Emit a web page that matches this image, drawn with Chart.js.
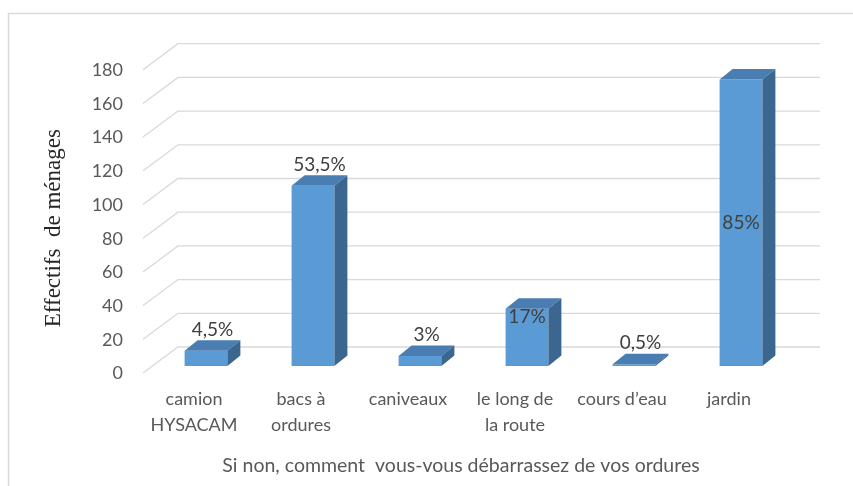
<!DOCTYPE html>
<html lang="fr">
<head>
<meta charset="utf-8">
<title>Effectifs de ménages</title>
<script src="https://cdn.jsdelivr.net/npm/chart.js@4.4.1/dist/chart.umd.min.js"></script>
<style>
  html, body { margin: 0; padding: 0; background: #fff; }
  canvas { display: block; }
</style>
</head>
<body>
<canvas id="chart" width="853" height="486"></canvas>
<script>
// réponses : comment les ménages se débarrassent de leurs ordures
const categories = [
  ['camion', 'HYSACAM'],
  ['bacs à', 'ordures'],
  'caniveaux',
  ['le long de', 'la route'],
  'cours d’eau',
  'jardin'
];
const effectifs = [9, 107, 6, 34, 1, 170];
const totalMenages = 200;
const yTicks = [0, 20, 40, 60, 80, 100, 120, 140, 160, 180];
const yTitle = 'Effectifs  de ménages';
const xTitle = 'Si non, comment  vous-vous débarrassez de vos ordures';

// où placer chaque étiquette de pourcentage
const labelPos = ['end', 'end', 'end', 'inside', 'end', 'center'];

// décalages de la pseudo-3D (plan des barres -> avant / fond)
const FRONT = { dx: -9.5, dy: 7 };
const BACK = { dx: 25.5, dy: -19 };
const DEPTH = { dx: 13, dy: 10.5 };

function pct(v) {
  const p = Math.round(v / totalMenages * 1000) / 10;
  return String(p).replace('.', ',') + '%';
}

const wallGrid = {
  id: 'wallGrid',
  beforeDatasetsDraw(chart) {
    const { ctx, chartArea } = chart;
    const y = chart.scales.y;
    ctx.save();
    ctx.strokeStyle = '#d9d9d9';
    ctx.lineWidth = 1.3;
    yTicks.forEach(v => {
      const py = y.getPixelForValue(v);
      ctx.beginPath();
      ctx.moveTo(chartArea.left + FRONT.dx, py + FRONT.dy);
      ctx.lineTo(chartArea.left + BACK.dx, py + BACK.dy);
      ctx.lineTo(chartArea.right + BACK.dx, py + BACK.dy);
      ctx.stroke();
    });
    ctx.restore();
  }
};

const bars3d = {
  id: 'bars3d',
  afterDatasetsDraw(chart) {
    const { ctx } = chart;
    const meta = chart.getDatasetMeta(0);
    ctx.save();
    meta.data.forEach((bar, i) => {
      const { x, y, base, width } = bar.getProps(['x', 'y', 'base', 'width'], true);
      const l = x - width / 2, r = x + width / 2;
      // face du dessus
      ctx.fillStyle = '#4a7db1';
      ctx.beginPath();
      ctx.moveTo(l, y);
      ctx.lineTo(l + DEPTH.dx, y - DEPTH.dy);
      ctx.lineTo(r + DEPTH.dx, y - DEPTH.dy);
      ctx.lineTo(r, y);
      ctx.closePath();
      ctx.fill();
      // face de côté
      ctx.fillStyle = '#3b6690';
      ctx.beginPath();
      ctx.moveTo(r, y);
      ctx.lineTo(r + DEPTH.dx, y - DEPTH.dy);
      ctx.lineTo(r + DEPTH.dx, base - DEPTH.dy);
      ctx.lineTo(r, base);
      ctx.closePath();
      ctx.fill();

      // étiquette de pourcentage
      ctx.fillStyle = '#404040';
      ctx.font = '19px Lato, "Open Sans", sans-serif';
      ctx.textAlign = 'center';
      ctx.textBaseline = 'middle';
      const txt = pct(effectifs[i]);
      if (labelPos[i] === 'inside') {
        ctx.fillText(txt, x, y + 8);
      } else if (labelPos[i] === 'center') {
        ctx.fillText(txt, x, (y + base) / 2);
      } else {
        ctx.fillText(txt, x + DEPTH.dx / 2, y - 21);
      }
    });
    ctx.restore();
  }
};

// titres des axes, placés par rapport à la zone du graphique
const axisTitles = {
  id: 'axisTitles',
  afterDraw(chart) {
    const { ctx, chartArea } = chart;
    ctx.save();
    ctx.textAlign = 'center';
    ctx.textBaseline = 'middle';

    ctx.fillStyle = '#595959';
    ctx.font = '19.5px Lato, "Open Sans", sans-serif';
    ctx.fillText(xTitle, chartArea.left + 308.5, chartArea.bottom + 100);

    ctx.fillStyle = '#262626';
    ctx.font = '23px "Liberation Serif", "DejaVu Serif", serif';
    ctx.translate(chartArea.left - 98.5, chartArea.top + 165.5);
    ctx.rotate(-Math.PI / 2);
    ctx.fillText(yTitle, 0, 0);
    ctx.restore();
  }
};

const frame = {
  id: 'frame',
  beforeDraw(chart) {
    const { ctx } = chart;
    ctx.save();
    ctx.fillStyle = '#fff';
    ctx.fillRect(0, 0, chart.width, chart.height);
    ctx.strokeStyle = '#d9d9d9';
    ctx.lineWidth = 1.5;
    ctx.beginPath();
    ctx.moveTo(8.5, chart.height + 2);
    ctx.lineTo(8.5, 13.5);
    ctx.lineTo(chart.width + 2, 13.5);
    ctx.stroke();
    ctx.restore();
  }
};

new Chart(document.getElementById('chart'), {
  type: 'bar',
  data: {
    labels: categories,
    datasets: [{
      data: effectifs,
      backgroundColor: '#5b9bd5',
      borderWidth: 0,
      categoryPercentage: 1,
      barPercentage: 0.4
    }]
  },
  options: {
    responsive: false,
    animation: false,
    layout: { padding: { left: 42, right: 58.5, top: 62.7, bottom: 10 } },
    plugins: {
      legend: { display: false },
      tooltip: { enabled: false }
    },
    scales: {
      x: {
        grid: { display: false, drawTicks: false },
        border: { display: false },
        ticks: {
          color: '#595959',
          font: { family: 'Lato, "Open Sans", sans-serif', size: 18, lineHeight: 1.45 },
          padding: 20,
          labelOffset: -12,
          maxRotation: 0,
          autoSkip: false
        },
        afterFit(scale) { scale.height = 110; }
      },
      y: {
        min: 0,
        max: 180,
        grid: { display: false, drawTicks: false },
        border: { display: false },
        ticks: {
          stepSize: 20,
          color: '#595959',
          font: { family: 'Lato, "Open Sans", sans-serif', size: 18 },
          padding: 29.5,
          labelOffset: 7.5
        },
        afterFit(scale) { scale.width = 110.5; }
      }
    }
  },
  plugins: [frame, wallGrid, bars3d, axisTitles]
});
</script>
</body>
</html>
